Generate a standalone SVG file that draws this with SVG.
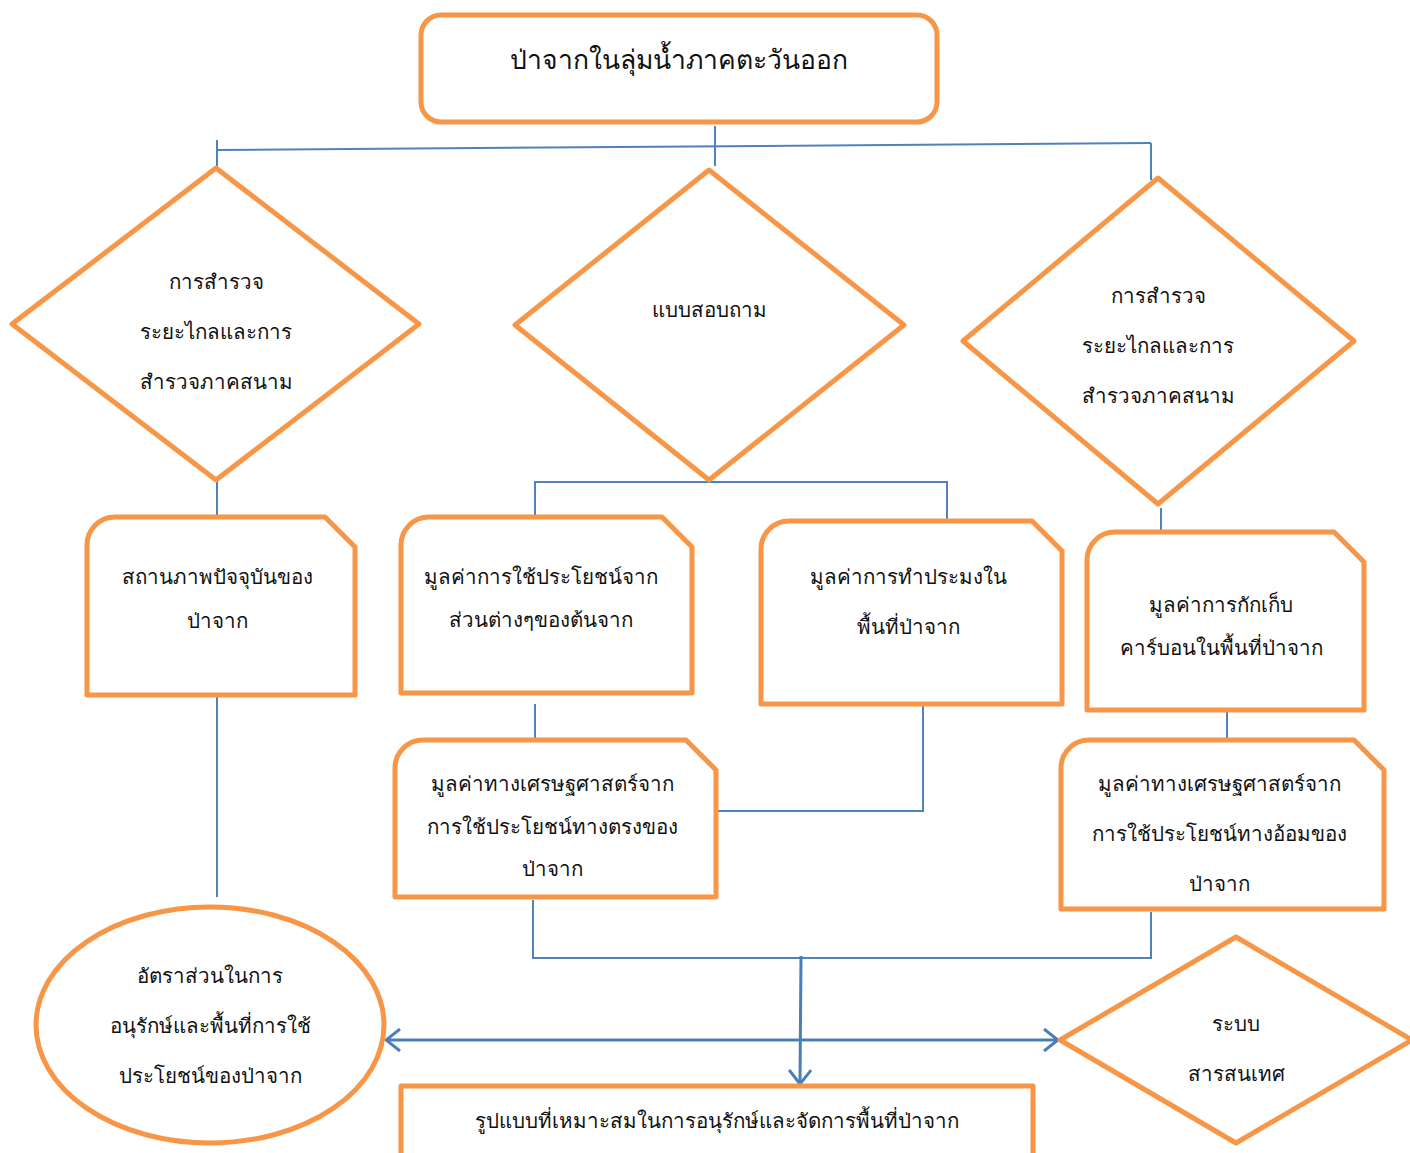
<svg xmlns="http://www.w3.org/2000/svg" width="1410" height="1153" viewBox="0 0 1410 1153">
<defs>
<style>
.shape{fill:#ffffff;stroke:#f79646;stroke-width:5;stroke-linejoin:round}
.con{fill:none;stroke:#4f81bd;stroke-width:2}
.arr{fill:none;stroke:#4a7ebb;stroke-width:3}
text{font-family:"Liberation Serif","Noto Sans","DejaVu Serif",serif;font-size:20.5px;fill:#111111;text-anchor:middle;dominant-baseline:middle}
.title{font-size:26.5px}
</style>
<marker id="open" viewBox="0 0 16 24" refX="15" refY="12" markerWidth="16" markerHeight="24" markerUnits="userSpaceOnUse" orient="auto-start-reverse">
<path d="M1,1 L15,12 L1,23" fill="none" stroke="#4a7ebb" stroke-width="3"/>
</marker>
</defs>
<rect width="1410" height="1153" fill="#ffffff"/>

<g id="connectors">
<line class="con" x1="715" y1="126" x2="715" y2="166"/>
<line class="con" x1="217" y1="150" x2="1151" y2="143"/>
<line class="con" x1="217" y1="140" x2="217" y2="166"/>
<line class="con" x1="1151" y1="143" x2="1151" y2="180"/>
<line class="con" x1="217" y1="480" x2="217" y2="517"/>
<line class="con" x1="217" y1="697" x2="217" y2="897"/>
<polyline class="con" points="535,523 535,482 947,482 947,520"/>
<line class="con" x1="535" y1="704" x2="535" y2="740"/>
<polyline class="con" points="923,704 923,811 716,811"/>
<line class="con" x1="1161" y1="508" x2="1161" y2="533"/>
<line class="con" x1="1227" y1="710" x2="1227" y2="748"/>
<polyline class="con" points="533,900 533,958 1151,958 1151,912"/>
<line class="arr" x1="801" y1="956" x2="800" y2="1084" marker-end="url(#open)"/>
<line class="arr" x1="386" y1="1040" x2="1058" y2="1040" marker-start="url(#open)" marker-end="url(#open)"/>
</g>

<g id="title">
<rect class="shape" x="421" y="15" width="516" height="107" rx="20"/>
<text class="title" x="679" y="63">ป่าจากในลุ่มน้ำภาคตะวันออก</text>
</g>

<g id="diamond-left">
<polygon class="shape" points="216,168 419,324 216,480 12,324"/>
<text x="216" y="284">การสำรวจ</text>
<text x="216" y="334">ระยะไกลและการ</text>
<text x="216" y="384">สำรวจภาคสนาม</text>
</g>

<g id="diamond-middle">
<polygon class="shape" points="709,170 904,325 709,480 515,325"/>
<text x="709" y="312">แบบสอบถาม</text>
</g>

<g id="diamond-right">
<polygon class="shape" points="1158,178 1354,341 1158,504 963,341"/>
<text x="1158" y="298">การสำรวจ</text>
<text x="1158" y="348">ระยะไกลและการ</text>
<text x="1158" y="398">สำรวจภาคสนาม</text>
</g>

<g id="card-status">
<path class="shape" d="M87,545 A28,28 0 0 1 115,517 L325,517 L355,547 L355,695 L87,695 Z"/>
<text x="217" y="579">สถานภาพปัจจุบันของ</text>
<text x="217" y="623">ป่าจาก</text>
</g>

<g id="card-use">
<path class="shape" d="M401,545 A28,28 0 0 1 429,517 L662,517 L692,547 L692,693 L401,693 Z"/>
<text x="541" y="579">มูลค่าการใช้ประโยชน์จาก</text>
<text x="541" y="622">ส่วนต่างๆของต้นจาก</text>
</g>

<g id="card-fishery">
<path class="shape" d="M761,549 A28,28 0 0 1 789,521 L1032,521 L1062,551 L1062,704 L761,704 Z"/>
<text x="908" y="579">มูลค่าการทำประมงใน</text>
<text x="908" y="629">พื้นที่ป่าจาก</text>
</g>

<g id="card-carbon">
<path class="shape" d="M1087,560 A28,28 0 0 1 1115,532 L1334,532 L1364,562 L1364,710 L1087,710 Z"/>
<text x="1221" y="607">มูลค่าการกักเก็บ</text>
<text x="1221" y="650">คาร์บอนในพื้นที่ป่าจาก</text>
</g>

<g id="card-direct">
<path class="shape" d="M395,768 A28,28 0 0 1 423,740 L686,740 L716,770 L716,897 L395,897 Z"/>
<text x="552" y="786">มูลค่าทางเศรษฐศาสตร์จาก</text>
<text x="552" y="829">การใช้ประโยชน์ทางตรงของ</text>
<text x="552" y="871">ป่าจาก</text>
</g>

<g id="card-indirect">
<path class="shape" d="M1061,768 A28,28 0 0 1 1089,740 L1354,740 L1384,770 L1384,909 L1061,909 Z"/>
<text x="1219" y="786">มูลค่าทางเศรษฐศาสตร์จาก</text>
<text x="1219" y="836">การใช้ประโยชน์ทางอ้อมของ</text>
<text x="1219" y="886">ป่าจาก</text>
</g>

<g id="ellipse-ratio">
<ellipse class="shape" cx="210" cy="1025" rx="174" ry="118"/>
<text x="210" y="978">อัตราส่วนในการ</text>
<text x="210" y="1028">อนุรักษ์และพื้นที่การใช้</text>
<text x="210" y="1078">ประโยชน์ของป่าจาก</text>
</g>

<g id="diamond-info">
<polygon class="shape" points="1236,937 1412,1040 1236,1143 1060,1040"/>
<text x="1236" y="1026">ระบบ</text>
<text x="1236" y="1076">สารสนเทศ</text>
</g>

<g id="box-model">
<rect class="shape" x="401" y="1086" width="632" height="90"/>
<text x="717" y="1123">รูปแบบที่เหมาะสมในการอนุรักษ์และจัดการพื้นที่ป่าจาก</text>
</g>
</svg>
